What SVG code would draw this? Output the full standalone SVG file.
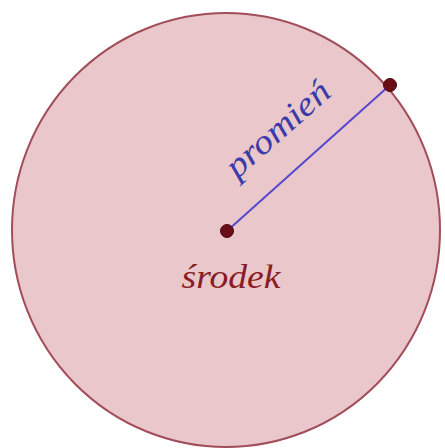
<svg xmlns="http://www.w3.org/2000/svg" width="445" height="448" viewBox="0 0 445 448">
<style>
.lbl{font-family:"Liberation Serif","DejaVu Serif",serif;font-style:italic}
.pt{fill:#6a0d16;stroke:#4a0a10;stroke-width:1}
</style>
<rect width="445" height="448" fill="#ffffff"/>
<g id="circle">
<ellipse cx="226" cy="230" rx="214" ry="217" fill="#e9c7ca" stroke="#a24d5a" stroke-width="2"/>
</g>
<g id="connectors">
<line x1="227" y1="231" x2="390" y2="85" stroke="#5548d0" stroke-width="2"/>
</g>
<g id="promien">
<text class="lbl" transform="translate(285,137) rotate(-41.5)" text-anchor="middle" font-size="34" fill="#3a3aa8" textLength="128" lengthAdjust="spacingAndGlyphs">promień</text>
</g>
<g id="srodek">
<circle class="pt" cx="227" cy="231" r="6.5"/>
<text class="lbl" x="231" y="288" text-anchor="middle" font-size="33" fill="#8a1c24" textLength="99" lengthAdjust="spacingAndGlyphs">środek</text>
</g>
<g id="edge">
<circle class="pt" cx="390" cy="85" r="6.5"/>
</g>
</svg>
